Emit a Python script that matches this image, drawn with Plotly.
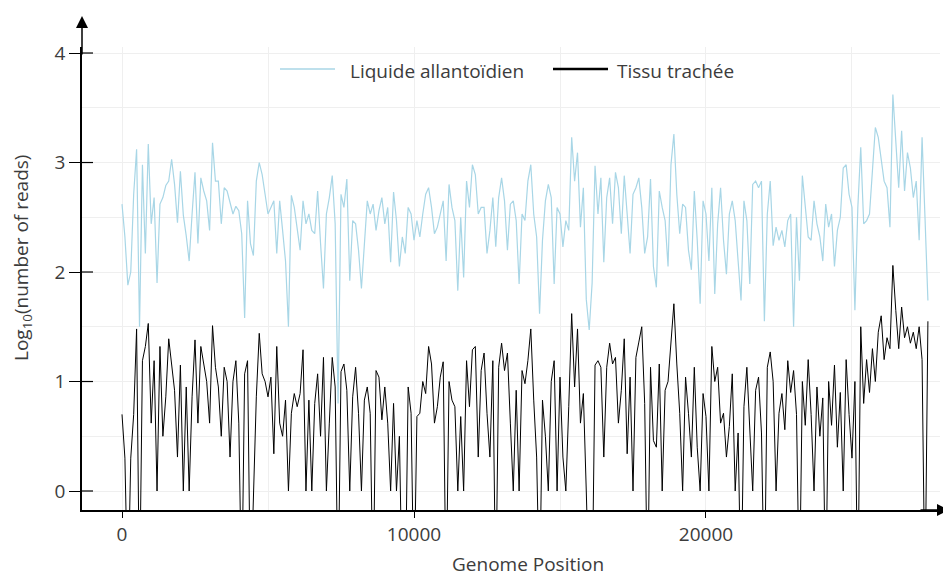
import plotly.graph_objects as go

# Genome positions (bp), sampled every 100 bp
positions = list(range(0, 27601, 100))

# log10(number of reads) - Liquide allantoïdien
allantoic = [
    2.62, 2.32, 1.88, 2.0, 2.71, 3.12, 1.5, 2.98, 2.17, 3.17,
    2.44, 2.68, 1.9, 2.62, 2.68, 2.79, 2.83, 3.03, 2.8, 2.45,
    2.92, 2.52, 2.33, 2.1, 2.53, 2.91, 2.26, 2.86, 2.74, 2.65,
    2.38, 3.18, 2.83, 2.83, 2.44, 2.77, 2.74, 2.62, 2.53, 2.6,
    2.56, 2.35, 1.58, 2.65, 2.26, 2.15, 2.83, 3.0, 2.89, 2.71,
    2.53, 2.59, 2.65, 2.17, 2.65, 2.38, 2.1, 1.5, 2.7, 2.59,
    2.41, 2.2, 2.65, 2.44, 2.53, 2.38, 2.35, 2.74, 2.26, 1.85,
    2.53, 2.68, 2.88, 2.44, 0.8, 2.71, 2.59, 2.85, 1.92, 2.47,
    2.44, 2.2, 1.85, 2.29, 2.65, 2.53, 2.62, 2.38, 2.56, 2.68,
    2.44, 2.59, 2.09, 2.73, 2.47, 2.05, 2.32, 2.17, 2.59, 2.53,
    2.29, 2.47, 2.32, 2.53, 2.71, 2.77, 2.59, 2.35, 2.41, 2.53,
    2.65, 2.1, 2.8, 2.59, 2.47, 1.83, 2.5, 1.95, 2.83, 2.59,
    2.98, 2.89, 2.53, 2.59, 2.59, 2.17, 2.38, 2.68, 2.23, 2.68,
    2.86, 2.65, 2.2, 2.62, 2.65, 2.47, 1.89, 2.53, 2.47, 2.83,
    2.98, 2.53, 2.32, 1.62, 2.29, 2.65, 2.8, 2.68, 1.89, 2.59,
    2.53, 2.23, 2.47, 2.38, 3.23, 2.83, 3.09, 2.41, 2.77, 1.75,
    1.47, 1.9, 2.97, 2.53, 2.86, 2.09, 2.68, 2.86, 2.44, 2.91,
    2.77, 2.35, 2.88, 2.53, 2.17, 2.71, 2.77, 2.86, 2.59, 2.17,
    2.32, 2.85, 2.05, 1.86, 2.74, 2.59, 2.47, 2.05, 2.98, 3.26,
    2.71, 2.35, 2.62, 2.59, 2.2, 2.02, 2.74, 2.29, 1.71, 2.65,
    2.53, 2.1, 2.77, 1.8, 2.44, 2.77, 2.29, 1.98, 2.53, 2.65,
    2.47, 2.1, 1.74, 2.65, 2.47, 1.89, 2.8, 2.83, 2.77, 2.83,
    1.55, 2.53, 2.83, 2.24, 2.41, 2.29, 2.38, 2.23, 2.47, 2.53,
    1.5, 2.5, 1.92, 2.88, 2.59, 2.32, 2.29, 2.65, 2.44, 2.32,
    2.1, 2.62, 2.41, 2.53, 2.05, 2.38, 2.5, 2.95, 2.98, 2.71,
    2.59, 1.65, 2.59, 3.14, 2.44, 2.47, 2.53, 2.98, 3.32, 3.23,
    3.05, 2.83, 2.77, 2.41, 3.62, 3.14, 2.77, 3.29, 2.74, 3.09,
    2.95, 2.68, 2.83, 2.29, 3.23, 2.5, 1.74,
]

# log10(number of reads) - Tissu trachée (-1 marks zero reads, drawn below the axis)
trachea = [
    0.7, 0.3, -1, 0.3, 0.7, 1.48, -1, 1.19, 1.32, 1.53,
    0.62, 1.19, 0, 1.32, 0.5, 0.86, 1.39, 1.16, 0.92, 0.31,
    1.15, 0, 0.95, 0, 0.86, 1.38, 0.62, 1.32, 1.16, 1.0,
    0.62, 1.51, 1.13, 0.95, 0.5, 1.13, 1.0, 0.31, 1.0, 1.19,
    0.62, -1, 1.07, 1.19, -1, 0, 0.86, 1.44, 1.07, 1.0,
    0.86, 1.04, 0.34, 1.32, 0.62, 0.5, 0.83, 0, 0.71, 0.89,
    0.77, 0.89, 1.29, 0, 0.83, 0, 0.8, 1.07, 0.5, 1.22,
    0, 0.62, 1.22, 0.95, -1, 1.09, 1.16, 0.92, 0, 0.86,
    1.13, 0.71, 0, 0.83, 0.95, 0.71, -1, 1.1, 1.04, 0.65,
    0.95, 0.62, 0, 0.8, 0, 0.5, -1, -1, 0.95, 0.71,
    -1, 0.68, 0.71, 1.0, 0.89, 1.32, 1.16, 0.62, 0.77, 1.04,
    1.18, -1, 1.0, 0.83, 0.77, 0, 0.68, 0, 1.19, 0.77,
    1.29, 1.32, 0.31, 1.1, 1.26, 0.71, 0.31, 1.19, -1, 1.13,
    1.35, 1.1, 1.26, 0.62, 0, 0.92, 0, 1.1, 0.98, 1.19,
    1.48, 0.83, 0.31, -1, 0.83, 0.5, 0, 1.0, 1.19, 0,
    1.04, 0.31, 0, 0.77, 1.62, 0.95, 1.48, 0.62, 0.89, 0,
    -1, -1, 1.15, 1.19, 1.13, 0.31, 1.13, 1.35, 1.16, 1.22,
    0.62, 0.92, 1.39, 0.34, 1.04, 0, 1.22, 1.36, 1.5, 0.8,
    -1, 1.13, 0.46, 0.4, 1.16, 0, 0.92, 1.0, 1.38, 1.71,
    1.16, 0.71, 0, 1.04, 0.71, 0.31, 1.13, 0.4, 0, 0.89,
    0.68, 0, 1.32, 1.0, 1.13, 0.62, 0.71, 0.31, 0.59, 1.07,
    0, 0.53, -1, 0.77, 1.13, 0.62, 0, 0.92, 1.04, 0.53,
    -1, 1.13, 1.27, 1.0, 0, 0.71, 0.89, 0.56, 1.19, 0.9,
    1.1, 0.7, -1, 1.0, 0.6, 1.2, 0.7, 0.0, 0.95, 0.5,
    0.85, -1, 1.0, 0.6, 1.15, 0.4, 0.9, 0.0, 1.2, 0.7,
    0.3, 1.0, -1, 1.5, 0.8, 1.2, 0.9, 1.3, 1.0, 1.45,
    1.6, 1.2, 1.4, 1.3, 2.06, 1.65, 1.3, 1.68, 1.4, 1.5,
    1.35, 1.45, 1.3, 1.5, 1.2, -1, 1.55,
]

series_names = ["Liquide allantoïdien", "Tissu trachée"]
series_colors = ["#a8d6e6", "#000000"]
x_tick_values = [0, 10000, 20000]
y_tick_values = [0, 1, 2, 3, 4]

FONT = "'Open Sans', sans-serif"
TEXT = "#3c3c3c"
GRID = "#efefef"

# the page body adds an 8 px offset, so the figure is drawn 8 px smaller
OFF = 8
W, H = 951 - OFF, 576 - OFF
L, T = 82 - OFF, 47 - OFF          # plot area left / top (screen px 82, 47)
PLOT_RIGHT, PLOT_BOTTOM = 940 - OFF, 510 - OFF
R, B = W - PLOT_RIGHT, H - PLOT_BOTTOM
PW, PH = W - L - R, H - T - B


def px(xscreen):
    return (xscreen - OFF - L) / PW


def py(yscreen):
    return (H - B - (yscreen - OFF)) / PH


fig = go.Figure()
fig.add_trace(go.Scatter(x=positions, y=allantoic, mode="lines", name=series_names[0],
                         line=dict(color=series_colors[0], width=1.2), showlegend=False))
fig.add_trace(go.Scatter(x=positions, y=trachea, mode="lines", name=series_names[1],
                         line=dict(color=series_colors[1], width=1), showlegend=False))

fig.update_layout(
    width=W, height=H,
    margin=dict(l=L, r=R, t=T, b=B),
    paper_bgcolor="white", plot_bgcolor="white",
    font=dict(family=FONT, size=19, color=TEXT),
    showlegend=False,
)
fig.update_xaxes(
    range=[-1370, 28014], tickvals=x_tick_values, ticktext=[str(v) for v in x_tick_values],
    showline=True, linecolor="black", linewidth=1.5, ticks="outside", ticklen=6,
    tickcolor="black", showgrid=True, gridcolor=GRID, zeroline=False, automargin=False,
    minor=dict(dtick=5000, tick0=0, showgrid=True, gridcolor=GRID, ticks=""),
    tickfont=dict(size=19, color=TEXT),
)
fig.update_yaxes(
    range=[-0.1735, 4.055], tickvals=y_tick_values,
    showline=True, linecolor="black", linewidth=1.5, ticks="outside", ticklen=11,
    tickcolor="black", showgrid=True, gridcolor=GRID, zeroline=False, automargin=False,
    minor=dict(dtick=0.5, tick0=0, showgrid=True, gridcolor=GRID, ticks=""),
    tickfont=dict(size=19, color=TEXT),
)

# axis titles
fig.add_annotation(xref="paper", yref="paper", x=px(528), y=py(564), text="Genome Position",
                   showarrow=False, font=dict(size=19, color=TEXT), xanchor="center", yanchor="middle")
fig.add_annotation(xref="paper", yref="paper", x=px(22), y=py(258),
                   text="Log<sub>10</sub>(number of reads)", textangle=-90,
                   showarrow=False, font=dict(size=19, color=TEXT), xanchor="center", yanchor="middle")

# legend (drawn manually to match spacing)
legend_items = [(280, 335, 348, 1.5), (553, 608, 615, 2.5)]
for (x0, x1, xt, lw), name, color in zip(legend_items, series_names, series_colors):
    fig.add_shape(type="line", xref="paper", yref="paper", x0=px(x0), x1=px(x1),
                  y0=py(69), y1=py(69), line=dict(color=color, width=lw))
    fig.add_annotation(xref="paper", yref="paper", x=px(xt), y=py(71), text=name,
                       showarrow=False, xanchor="left", yanchor="middle",
                       font=dict(size=19, color=TEXT))

# inner half of the y ticks (they cross the axis line)
for v in y_tick_values:
    fig.add_shape(type="line", xref="paper", yref="y", x0=0, x1=px(93), y0=v, y1=v,
                  line=dict(color="black", width=1.2))

# axis arrows
fig.add_annotation(xref="paper", yref="paper", x=0, y=py(16), ax=0, ay=40, text="",
                   showarrow=True, arrowhead=2, arrowsize=1.6, arrowwidth=1.5, arrowcolor="black")
fig.add_annotation(xref="paper", yref="paper", x=px(949), y=0, ax=-30, ay=0, text="",
                   showarrow=True, arrowhead=2, arrowsize=1.6, arrowwidth=1.5, arrowcolor="black")

fig.write_html("out.html")
